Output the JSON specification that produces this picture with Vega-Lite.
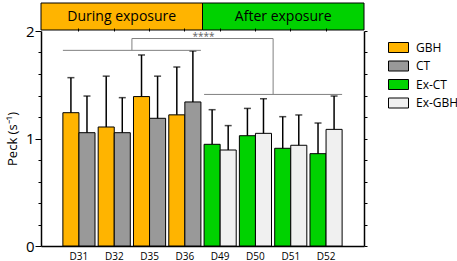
{
  "$schema": "https://vega.github.io/schema/vega-lite/v6.json",
  "padding": {"left": 6, "top": 2, "right": 0, "bottom": 0},
  "config": {"font": "Open Sans", "view": {"stroke": null}},
  "spacing": 1,
  "bounds": "flush",
  "resolve": {"scale": {"color": "independent", "x": "independent"}},
  "vconcat": [
    {
      "width": 323,
      "height": 27,
      "data": {"values": [{"phase": "During exposure"}, {"phase": "After exposure"}]},
      "layer": [
        {
          "mark": {"type": "bar", "stroke": "black", "strokeWidth": 1},
          "encoding": {
            "x": {"field": "phase", "type": "nominal", "scale": {"domain": ["During exposure", "After exposure"], "paddingInner": 0, "paddingOuter": 0}, "axis": null},
            "color": {"field": "phase", "type": "nominal", "scale": {"domain": ["During exposure", "After exposure"], "range": ["#FFB400", "#00D200"]}, "legend": null}
          }
        },
        {
          "mark": {"type": "text", "fontSize": 14, "color": "black"},
          "encoding": {
            "x": {"field": "phase", "type": "nominal", "axis": null},
            "text": {"field": "phase"}
          }
        }
      ]
    },
    {
      "width": 323,
      "height": 215,
      "data": {"values": [
        {"day": "D31", "group": "GBH", "bar": "1", "peck": 1.24, "upper": 1.566},
        {"day": "D31", "group": "CT", "bar": "2", "peck": 1.054, "upper": 1.395},
        {"day": "D32", "group": "GBH", "bar": "1", "peck": 1.107, "upper": 1.58},
        {"day": "D32", "group": "CT", "bar": "2", "peck": 1.054, "upper": 1.38},
        {"day": "D35", "group": "GBH", "bar": "1", "peck": 1.39, "upper": 1.777},
        {"day": "D35", "group": "CT", "bar": "2", "peck": 1.188, "upper": 1.58},
        {"day": "D36", "group": "GBH", "bar": "1", "peck": 1.22, "upper": 1.665},
        {"day": "D36", "group": "CT", "bar": "2", "peck": 1.34, "upper": 1.814},
        {"day": "D49", "group": "Ex-CT", "bar": "1", "peck": 0.946, "upper": 1.268},
        {"day": "D49", "group": "Ex-GBH", "bar": "2", "peck": 0.893, "upper": 1.12},
        {"day": "D50", "group": "Ex-CT", "bar": "1", "peck": 1.026, "upper": 1.28},
        {"day": "D50", "group": "Ex-GBH", "bar": "2", "peck": 1.048, "upper": 1.37},
        {"day": "D51", "group": "Ex-CT", "bar": "1", "peck": 0.909, "upper": 1.203},
        {"day": "D51", "group": "Ex-GBH", "bar": "2", "peck": 0.937, "upper": 1.219},
        {"day": "D52", "group": "Ex-CT", "bar": "1", "peck": 0.859, "upper": 1.144},
        {"day": "D52", "group": "Ex-GBH", "bar": "2", "peck": 1.085, "upper": 1.395}
      ]},
      "resolve": {"axis": {"x": "independent", "y": "independent"}},
      "layer": [
        {
          "mark": {"type": "bar", "stroke": "black", "strokeWidth": 1},
          "encoding": {
            "x": {"field": "day", "type": "nominal",
              "scale": {"domain": ["D31", "D32", "D35", "D36", "D49", "D50", "D51", "D52"], "paddingInner": 0.09, "paddingOuter": 0.62},
              "axis": {"title": null, "labelAngle": 0, "labelFontSize": 10, "labelColor": "black", "ticks": false, "labelPadding": 5, "domainColor": "black", "domainWidth": 1.5}},
            "xOffset": {"field": "bar", "type": "nominal", "scale": {"paddingInner": 0, "paddingOuter": 0}},
            "y": {"field": "peck", "type": "quantitative",
              "scale": {"domain": [0, 2], "nice": false},
              "axis": {"title": "Peck (s⁻¹)", "titleFontSize": 13, "titleFontWeight": "normal", "titleColor": "black", "titlePadding": 6,
                "values": [0, 0.2, 0.4, 0.6, 0.8, 1, 1.2, 1.4, 1.6, 1.8, 2], "format": "~g",
                "labelExpr": "datum.value == 0 || datum.value == 1 || datum.value == 2 ? datum.label : ''",
                "labelFontSize": 15, "labelColor": "black", "labelPadding": 1, "labelOverlap": false,
                "tickSize": {"condition": {"test": "datum.value == 0 || datum.value == 1 || datum.value == 2", "value": 6}, "value": 3},
                "tickColor": "black", "grid": false, "domainColor": "black", "domainWidth": 1.5}},
            "color": {"field": "group", "type": "nominal",
              "scale": {"domain": ["GBH", "CT", "Ex-CT", "Ex-GBH"], "range": ["#FFB400", "#999999", "#00D200", "#F0F0F0"]},
              "legend": {"title": null, "orient": "none", "legendX": 347, "legendY": 6,
                "symbolType": "M-1,-0.5H1V0.5H-1Z", "symbolSize": 400, "symbolStrokeColor": "black", "symbolStrokeWidth": 1,
                "labelFontSize": 12, "labelColor": "black", "labelOffset": 7, "rowPadding": 0.5}}
          }
        },
        {
          "mark": {"type": "rule", "color": "black", "strokeWidth": 1.5},
          "encoding": {
            "x": {"field": "day", "type": "nominal", "axis": null},
            "xOffset": {"field": "bar", "type": "nominal"},
            "y": {"field": "peck", "type": "quantitative", "axis": null},
            "y2": {"field": "upper"}
          }
        },
        {
          "mark": {"type": "tick", "orient": "horizontal", "size": 7, "thickness": 1.5, "color": "black"},
          "encoding": {
            "x": {"field": "day", "type": "nominal",
              "axis": {"orient": "top", "title": null, "labels": false, "ticks": true, "tickSize": 3, "tickColor": "black", "domain": false}},
            "xOffset": {"field": "bar", "type": "nominal"},
            "y": {"field": "upper", "type": "quantitative",
              "axis": {"orient": "right", "title": null, "labels": false, "values": [0, 0.2, 0.4, 0.6, 0.8, 1, 1.2, 1.4, 1.6, 1.8, 2], "tickSize": 3, "tickColor": "black", "grid": false, "domainColor": "black", "domainWidth": 1.5}}
          }
        },
        {
          "data": {"values": [
            {"from": "D31", "to": "D36", "level": 1.82},
            {"from": "D49", "to": "D52", "level": 1.41}
          ]},
          "mark": {"type": "rule", "color": "#808080", "strokeWidth": 1},
          "encoding": {
            "x": {"field": "from", "type": "nominal", "bandPosition": 0, "axis": null},
            "x2": {"field": "to", "bandPosition": 1},
            "y": {"field": "level", "type": "quantitative", "axis": null}
          }
        },
        {
          "data": {"values": [
            {"from": "D32", "to": "D32", "low": 1.82, "high": 1.93},
            {"from": "D32", "to": "D50", "low": 1.93, "high": 1.93},
            {"from": "D50", "to": "D50", "low": 1.41, "high": 1.93}
          ]},
          "mark": {"type": "rule", "color": "#808080", "strokeWidth": 1},
          "encoding": {
            "x": {"field": "from", "type": "nominal", "bandPosition": 1.05, "axis": null},
            "x2": {"field": "to", "bandPosition": 1.05},
            "y": {"field": "low", "type": "quantitative", "axis": null},
            "y2": {"field": "high"}
          }
        },
        {
          "data": {"values": [{"at": "D36", "level": 1.918, "label": "****"}]},
          "mark": {"type": "text", "fontSize": 10, "color": "#606060", "baseline": "alphabetic"},
          "encoding": {
            "x": {"field": "at", "type": "nominal", "bandPosition": 1.08, "axis": null},
            "y": {"field": "level", "type": "quantitative", "axis": null},
            "text": {"field": "label"}
          }
        }
      ]
    }
  ]
}
